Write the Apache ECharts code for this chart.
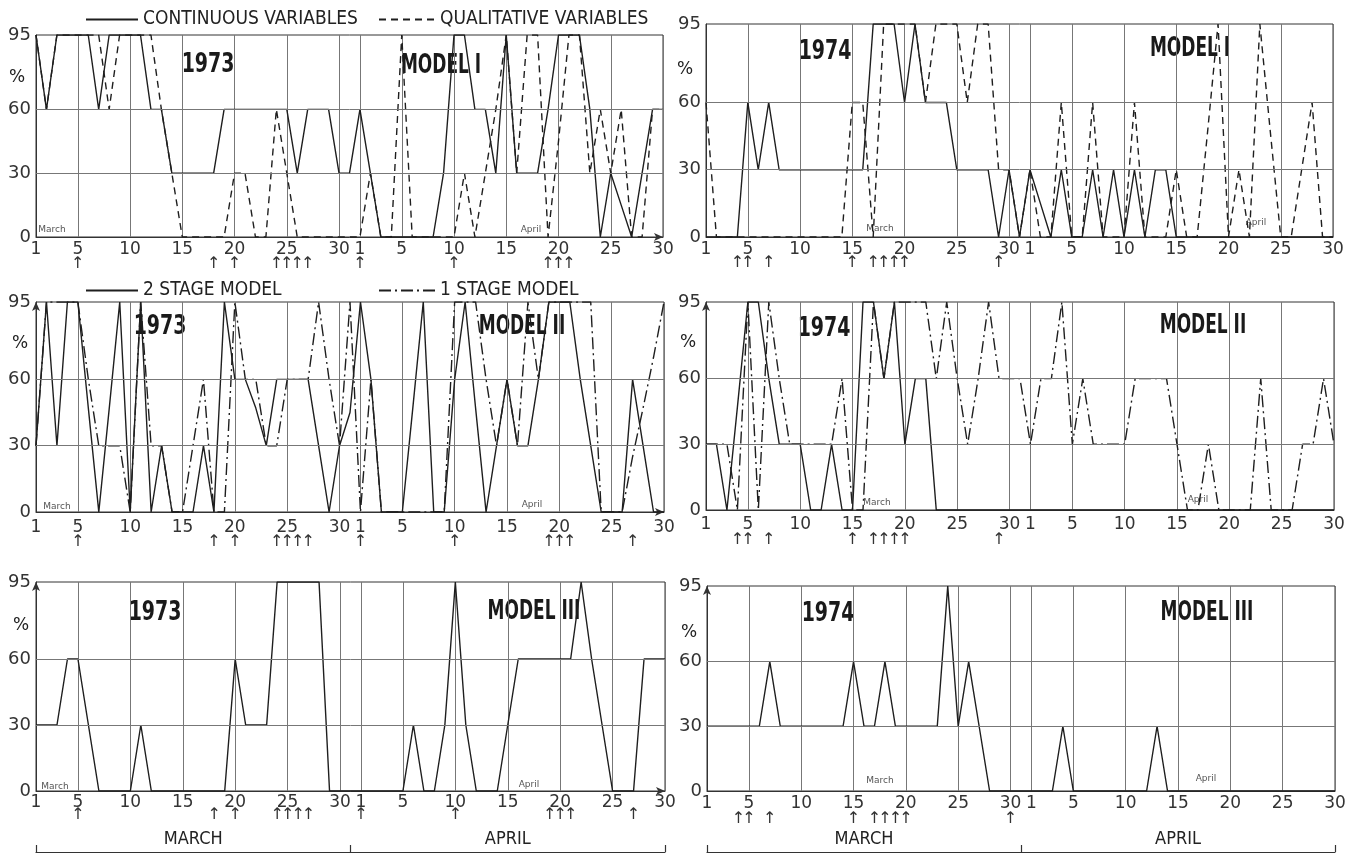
<!DOCTYPE html>
<html><head><meta charset="utf-8">
<script src="https://cdn.jsdelivr.net/npm/echarts@6/dist/echarts.min.js"></script>
<style>html,body{margin:0;padding:0;background:#fff}#c{width:1360px;height:855px}</style>
</head><body><div id="c"></div>
<script>
const marchDays = [1,2,3,4,5,6,7,8,9,10,11,12,13,14,15,16,17,18,19,20,21,22,23,24,25,26,27,28,29,30,31];
const aprilDays = [1,2,3,4,5,6,7,8,9,10,11,12,13,14,15,16,17,18,19,20,21,22,23,24,25,26,27,28,29,30];
const monthNames = ['MARCH', 'APRIL'];
const yTicks = [0, 30, 60, 95];

// MODEL I
const m1y73Continuous = [95,60,95,95,95,95,60,95,95,95,95,60,60,30,30,30,30,30,60,60,60,60,60,60,60,30,60,60,60,30,30,
  60,30,0,0,0,0,0,0,30,95,95,60,60,30,95,30,30,30,60,95,95,95,60,0,30,15,0,30,60,60];
const m1y73Qualitative = [95,60,95,95,95,95,95,60,95,95,95,95,60,30,0,0,0,0,0,30,30,0,0,60,30,0,0,0,0,0,0,
  0,30,0,0,95,0,0,0,0,0,30,0,30,60,95,30,95,95,0,45,95,95,30,60,30,60,0,0,60,60];
const m1y74Continuous = [0,0,0,0,60,30,60,30,30,30,30,30,30,30,30,30,95,95,95,60,95,60,60,60,30,30,30,30,0,30,0,
  30,15,0,30,0,0,30,0,30,0,30,0,30,30,0,0,0,0,0,0,0,0,0,0,0,0,0,0,0,0];
const m1y74Qualitative = [60,0,0,0,0,0,0,0,0,0,0,0,0,0,60,60,0,95,95,95,95,60,95,95,95,60,95,95,30,30,0,
  30,0,0,60,0,0,60,0,0,0,60,0,0,0,30,0,0,47,95,0,30,0,95,47,0,0,30,60,0,0];
// MODEL II
const m2y73TwoStage = [30,95,30,95,95,47,0,47,95,0,95,0,30,0,0,0,30,0,95,60,60,47,30,60,60,60,60,30,0,30,45,
  95,60,0,0,0,47,95,0,0,60,95,47,0,30,60,30,30,60,95,95,95,60,30,0,0,0,60,30,0,0];
const m2y73OneStage = [30,95,95,95,95,60,30,30,30,0,95,30,30,0,0,30,60,0,0,95,60,60,30,30,60,60,60,95,60,30,95,
  0,60,0,0,0,0,0,0,0,95,95,95,60,30,60,30,95,60,95,95,95,95,95,0,0,0,25,47,70,95];
const m2y74TwoStage = [30,30,0,47,95,95,60,30,30,30,0,0,30,0,0,95,95,60,95,30,60,60,0,0,0,0,0,0,0,0,0,
  0,0,0,0,0,0,0,0,0,0,0,0,0,0,0,0,0,0,0,0,0,0,0,0,0,0,0,0,0,0];
const m2y74OneStage = [30,30,30,0,95,0,95,60,30,30,30,30,30,60,0,0,95,60,95,95,95,95,60,95,60,30,60,95,60,60,60,
  30,60,60,95,30,60,30,30,30,30,60,60,60,60,30,0,0,30,0,0,0,0,60,0,0,0,30,30,60,30];
// MODEL III
const m3y73 = [30,30,30,60,60,30,0,0,0,0,30,0,0,0,0,0,0,0,0,60,30,30,30,95,95,95,95,95,0,0,0,
  0,0,0,0,0,30,0,0,30,95,30,0,0,0,30,60,60,60,60,60,60,95,60,30,0,0,0,60,60,60];
const m3y74 = [30,30,30,30,30,30,60,30,30,30,30,30,30,30,60,30,30,60,30,30,30,30,30,95,30,60,30,0,0,0,0,
  0,0,0,30,0,0,0,0,0,0,0,0,30,0,0,0,0,0,0,0,0,0,0,0,0,0,0,0,0,0];

// event arrows under the axes
const arrows73 = ['Mar 5','Mar 18','Mar 20','Mar 24','Mar 25','Mar 26','Mar 27','Apr 1','Apr 10','Apr 19','Apr 20','Apr 21'];
const arrows73b = arrows73.concat(['Apr 27']);
const arrows74 = ['Mar 4','Mar 5','Mar 7','Mar 15','Mar 17','Mar 18','Mar 19','Mar 20','Mar 29'];
const arrows74b = ['Mar 4','Mar 5','Mar 7','Mar 15','Mar 17','Mar 18','Mar 19','Mar 20','Mar 30'];

const categories = marchDays.map(d => 'Mar ' + d).concat(aprilDays.map(d => 'Apr ' + d));

const NARROW = "'Liberation Sans Narrow', 'DejaVu Sans Condensed', 'Arial Narrow', sans-serif";
const SANS = "'DejaVu Sans', sans-serif";
const INK = '#1e1e1e';
const SOLID = 'solid', DASH = [7, 5], DASHDOT = [12, 4, 2, 4];

const panels = [
  {left:36, top:35, width:627, height:202, xArrow:true, yArrow:false, labelMargin:4, arrowOffset:19, arrows:arrows73, months:false,
   series:[['CONTINUOUS VARIABLES', m1y73Continuous, SOLID], ['QUALITATIVE VARIABLES', m1y73Qualitative, DASH]],
   year:['1973',208,65], model:['MODEL I',441,66], pct:[17,78], mar:[52,230], apr:[531,230]},
  {left:706, top:24, width:627, height:213, xArrow:false, yArrow:false, labelMargin:4, arrowOffset:18, arrows:arrows74, months:false,
   series:[['CONTINUOUS VARIABLES', m1y74Continuous, SOLID], ['QUALITATIVE VARIABLES', m1y74Qualitative, DASH]],
   year:['1974',825,52], model:['MODEL I',1190,49], pct:[685,70], mar:[880,229], apr:[1256,223]},
  {left:36, top:302, width:628, height:210, xArrow:true, yArrow:true, labelMargin:7, arrowOffset:22, arrows:arrows73b, months:false,
   series:[['2 STAGE MODEL', m2y73TwoStage, SOLID], ['1 STAGE MODEL', m2y73OneStage, DASHDOT]],
   year:['1973',160,327], model:['MODEL II',522,327], pct:[20,344], mar:[57,507], apr:[532,505]},
  {left:706, top:302, width:628, height:208, xArrow:false, yArrow:true, labelMargin:6, arrowOffset:22, arrows:arrows74, months:false,
   series:[['2 STAGE MODEL', m2y74TwoStage, SOLID], ['1 STAGE MODEL', m2y74OneStage, DASHDOT]],
   year:['1974',824,329], model:['MODEL II',1203,326], pct:[688,343], mar:[877,503], apr:[1198,500]},
  {left:36, top:582, width:629, height:209, xArrow:true, yArrow:true, labelMargin:3, arrowOffset:16, arrows:arrows73b, months:true,
   series:[['MODEL III 1973', m3y73, SOLID]],
   year:['1973',155,613], model:['MODEL III',534,612], pct:[21,626], mar:[55,787], apr:[529,785]},
  {left:707, top:586, width:628, height:205, xArrow:false, yArrow:true, labelMargin:4, arrowOffset:20, arrows:arrows74b, months:true,
   series:[['MODEL III 1974', m3y74, SOLID]],
   year:['1974',828,614], model:['MODEL III',1207,613], pct:[689,633], mar:[880,781], apr:[1206,779]}
];

function isLabelDay(value) {
  const d = Number(String(value).split(' ')[1]);
  return d === 1 || d % 5 === 0;
}

function legendFor(name, left, top, w) {
  return {data:[name], left:left, top:top, itemWidth:w, itemHeight:12, selectedMode:false,
    itemStyle:{color:'transparent', borderColor:'transparent', borderWidth:0, opacity:0},
    textStyle:{fontFamily:NARROW, fontSize:19, color:'#222'}};
}

const option = {
  backgroundColor: '#fff',
  animation: false,
  legend: [
    legendFor('CONTINUOUS VARIABLES', 80, 5, 52),
    legendFor('QUALITATIVE VARIABLES', 373, 5, 56),
    legendFor('2 STAGE MODEL', 80, 276, 52),
    legendFor('1 STAGE MODEL', 373, 276, 56)
  ],
  grid: [], xAxis: [], yAxis: [], series: [], graphic: {elements: []}
};

function txt(text, x, y, font, fill, extra) {
  return Object.assign({type:'text', x:x, y:y, silent:true,
    style:{text:text, font:font, fill:fill, align:'center', verticalAlign:'middle', textAlign:'center', textVerticalAlign:'middle'}}, extra || {});
}

panels.forEach((p, i) => {
  option.grid.push({left:p.left, top:p.top, width:p.width, height:p.height, show:true, borderColor:'#333', borderWidth:1, backgroundColor:'transparent'});
  const mainIdx = option.xAxis.length;
  option.xAxis.push({
    gridIndex:i, type:'category', data:categories, boundaryGap:false,
    axisLine:{lineStyle:{color:'#333', width:1}, symbol: p.xArrow ? ['none','arrow'] : 'none', symbolSize:[6,9]},
    axisTick:{show:false},
    axisLabel:{interval:(idx, val) => isLabelDay(val), formatter:v => String(v).split(' ')[1], margin:p.labelMargin, fontSize:17, color:'#333', fontFamily:SANS},
    splitLine:{show:true, interval:(idx, val) => isLabelDay(val), lineStyle:{color:'#777', width:1}}
  });
  option.xAxis.push({
    gridIndex:i, type:'category', data:categories, boundaryGap:false, position:'bottom', offset:p.arrowOffset,
    axisLine:{show:false}, axisTick:{show:false}, splitLine:{show:false},
    axisLabel:{interval:0, formatter:v => p.arrows.indexOf(v) >= 0 ? '↑' : '', margin:0, fontSize:16, color:'#333', fontFamily:SANS}
  });
  if (p.months) {
    option.xAxis.push({
      gridIndex:i, type:'category', data:monthNames, boundaryGap:true, position:'bottom', offset:61,
      axisLine:{show:true, lineStyle:{color:'#333', width:1.2}},
      axisTick:{show:true, inside:true, interval:0, alignWithLabel:false, length:7, lineStyle:{color:'#333', width:1.2}},
      splitLine:{show:false},
      axisLabel:{inside:true, interval:0, margin:4, fontSize:18, color:'#222', fontFamily:NARROW}
    });
  }
  option.yAxis.push({
    gridIndex:i, type:'value', min:0, max:95, interval:5,
    axisLine:{show:true, lineStyle:{color:'#333', width:1}, symbol: p.yArrow ? ['none','arrow'] : 'none', symbolSize:[6,9]},
    axisTick:{show:false}, splitLine:{show:false},
    axisLabel:{formatter:v => yTicks.indexOf(v) >= 0 ? String(v) : '', fontSize:18, color:'#333', margin:5, fontFamily:SANS}
  });
  p.series.forEach((s, k) => {
    const ser = {
      type:'line', name:s[0], xAxisIndex:mainIdx, yAxisIndex:i, data:s[1], symbol:'none', silent:true,
      lineStyle:{color:INK, width:1.4, type:s[2]}, itemStyle:{color:INK}, z:3 + k
    };
    if (k === 0) {
      ser.markLine = {silent:true, symbol:['none','none'], label:{show:false},
        lineStyle:{color:'#777', width:1, type:'solid'}, emphasis:{disabled:true},
        data:[{yAxis:30}, {yAxis:60}]};
    }
    option.series.push(ser);
  });
  const els = option.graphic.elements;
  els.push(txt(p.year[0], p.year[1], p.year[2], 'bold 27px ' + NARROW, '#1a1a1a', {scaleX:0.78}));
  els.push(txt(p.model[0], p.model[1], p.model[2], 'bold 27px ' + NARROW, '#1a1a1a', {scaleX:0.7}));
  els.push(txt('%', p.pct[0], p.pct[1], '17px ' + SANS, '#222'));
  els.push(txt('March', p.mar[0], p.mar[1], '9px ' + SANS, '#555'));
  els.push(txt('April', p.apr[0], p.apr[1], '9px ' + SANS, '#555'));
});

const chart = echarts.init(document.getElementById('c'), null, {renderer:'canvas'});
chart.setOption(option);
</script>
</body></html>
